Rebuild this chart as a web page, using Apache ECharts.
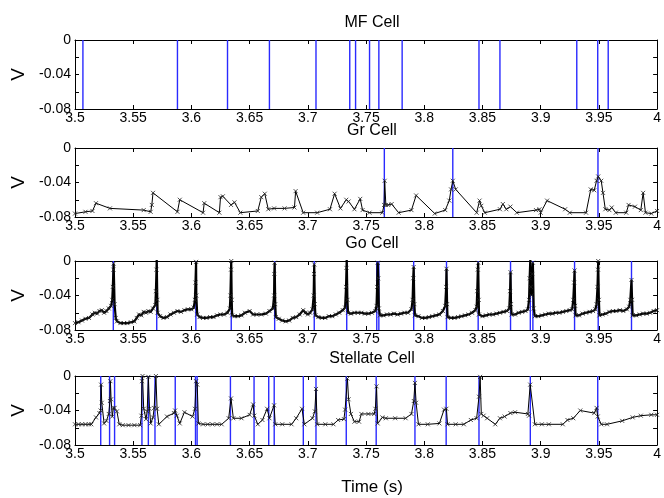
<!DOCTYPE html>
<html><head><meta charset="utf-8">
<script src="https://cdn.jsdelivr.net/npm/echarts@6/dist/echarts.min.js"></script>
<style>html,body{margin:0;padding:0;background:#fff}#c{width:664px;height:498px}</style>
</head><body><div id="c"></div>
<script>
const panelTitles = ['MF Cell', 'Gr Cell', 'Go Cell', 'Stellate Cell'];
const xMin = 3.5, xMax = 4, xStep = 0.05;
const yMin = -0.08, yMax = 0, yStep = 0.02;
const yLabels = [0, -0.04, -0.08];
const xTitle = 'Time (s)';
const yTitle = 'V';

const mfSpikes = [3.5068, 3.588, 3.631, 3.667, 3.707, 3.736, 3.741, 3.753, 3.761, 3.781, 3.847, 3.865, 3.931, 3.949, 3.958];

const grSpikes = [3.7657, 3.8245, 3.9492];
const grT = [3.500, 3.509, 3.515, 3.518, 3.530, 3.559, 3.565, 3.566, 3.567, 3.588, 3.590, 3.610, 3.611, 3.624, 3.625, 3.627, 3.634, 3.637, 3.642, 3.657, 3.660, 3.663, 3.666, 3.671, 3.680, 3.6885, 3.6895, 3.696, 3.708, 3.719, 3.723, 3.728, 3.733, 3.735, 3.740, 3.745, 3.747, 3.753, 3.764, 3.7655, 3.766, 3.767, 3.769, 3.772, 3.778, 3.789, 3.793, 3.809, 3.818, 3.8215, 3.823, 3.8245, 3.827, 3.845, 3.8475, 3.849, 3.852, 3.865, 3.8675, 3.8705, 3.874, 3.8795, 3.896, 3.899, 3.900, 3.9055, 3.921, 3.925, 3.939, 3.943, 3.946, 3.948, 3.9494, 3.952, 3.9535, 3.9555, 3.959, 3.961, 3.9645, 3.9735, 3.9755, 3.981, 3.986, 3.988, 3.990, 3.995, 4.000];
const grV = [-0.076, -0.074, -0.073, -0.064, -0.070, -0.072, -0.074, -0.066, -0.052, -0.074, -0.060, -0.075, -0.064, -0.075, -0.057, -0.056, -0.066, -0.063, -0.075, -0.073, -0.057, -0.053, -0.071, -0.070, -0.070, -0.069, -0.050, -0.075, -0.075, -0.071, -0.053, -0.070, -0.060, -0.062, -0.071, -0.059, -0.072, -0.075, -0.075, -0.066, -0.038, -0.066, -0.066, -0.065, -0.075, -0.072, -0.055, -0.076, -0.072, -0.061, -0.048, -0.038, -0.048, -0.075, -0.061, -0.067, -0.075, -0.071, -0.065, -0.071, -0.068, -0.075, -0.072, -0.071, -0.075, -0.061, -0.071, -0.075, -0.075, -0.048, -0.049, -0.038, -0.033, -0.038, -0.052, -0.071, -0.072, -0.069, -0.075, -0.075, -0.066, -0.068, -0.072, -0.052, -0.075, -0.076, -0.073];

const goSpikes = [3.5329, 3.5702, 3.6038, 3.6342, 3.6715, 3.7055, 3.7334, 3.7592, 3.7610, 3.7909, 3.8191, 3.8463, 3.8741, 3.8911, 3.8933, 3.9291, 3.9494, 3.9780];
const goT = [3.500,3.503,3.506,3.509,3.512,3.515,3.517,3.519,3.521,3.523,3.525,3.527,3.529,3.531,3.532,3.5325,3.533,3.5332,3.534,3.535,
 3.536,3.539,3.542,3.545,3.548,3.551,3.553,3.555,3.557,3.559,3.561,3.563,3.565,3.567,3.569,3.5695,3.570,3.5702,3.5707,3.571,
 3.573,3.576,3.579,3.582,3.585,3.588,3.591,3.594,3.597,3.600,3.602,3.603,3.6035,3.604,3.6042,3.605,
 3.607,3.610,3.613,3.616,3.619,3.622,3.625,3.628,3.631,3.633,3.6335,3.634,3.6342,3.6346,3.635,
 3.637,3.640,3.643,3.646,3.650,3.653,3.656,3.660,3.664,3.667,3.670,3.671,3.6712,3.6715,3.672,3.6725,
 3.675,3.678,3.681,3.684,3.687,3.690,3.693,3.696,3.698,3.700,3.702,3.704,3.705,3.7053,3.7055,3.706,3.7065,
 3.709,3.712,3.715,3.718,3.721,3.724,3.727,3.730,3.732,3.7328,3.7332,3.7334,3.734,3.7345,
 3.737,3.740,3.743,3.746,3.749,3.752,3.755,3.758,3.759,3.7595,3.760,3.7605,3.761,3.762,
 3.765,3.768,3.771,3.774,3.777,3.780,3.783,3.786,3.789,3.790,3.7905,3.7909,3.7915,3.792,
 3.795,3.798,3.801,3.804,3.807,3.810,3.813,3.816,3.818,3.8188,3.8191,3.8196,3.820,
 3.823,3.826,3.829,3.832,3.835,3.838,3.841,3.844,3.845,3.8455,3.846,3.8463,3.8468,3.847,
 3.850,3.853,3.856,3.859,3.862,3.865,3.868,3.871,3.873,3.8737,3.8741,3.8745,3.875,
 3.878,3.881,3.884,3.887,3.889,3.890,3.8905,3.8911,3.8915,3.892,3.8928,3.8933,3.894,3.895,
 3.898,3.901,3.904,3.907,3.910,3.913,3.916,3.919,3.922,3.925,3.927,3.928,3.9287,3.9291,3.9296,3.930,
 3.933,3.936,3.939,3.942,3.945,3.947,3.948,3.9488,3.9492,3.9494,3.950,3.9505,
 3.953,3.956,3.959,3.962,3.965,3.968,3.971,3.974,3.976,3.977,3.978,3.9785,3.979,
 3.982,3.985,3.988,3.991,3.994,3.997,4.000];
const goV = [-0.072,-0.071,-0.069,-0.067,-0.066,-0.062,-0.060,-0.061,-0.058,-0.057,-0.060,-0.058,-0.055,-0.052,-0.045,-0.030,-0.010,-0.003,-0.050,-0.066,
 -0.070,-0.072,-0.072,-0.072,-0.071,-0.070,-0.066,-0.062,-0.063,-0.059,-0.060,-0.058,-0.059,-0.055,-0.051,-0.035,-0.010,0.002,-0.045,-0.060,
 -0.064,-0.066,-0.065,-0.062,-0.060,-0.058,-0.059,-0.057,-0.056,-0.056,-0.054,-0.045,-0.025,-0.001,-0.040,-0.062,
 -0.065,-0.066,-0.066,-0.065,-0.065,-0.063,-0.062,-0.062,-0.060,-0.055,-0.040,-0.010,0,-0.045,-0.063,
 -0.064,-0.064,-0.063,-0.060,-0.058,-0.062,-0.062,-0.062,-0.061,-0.058,-0.055,-0.040,-0.015,-0.002,-0.050,-0.065,
 -0.067,-0.069,-0.070,-0.069,-0.066,-0.065,-0.062,-0.057,-0.060,-0.062,-0.060,-0.056,-0.040,-0.015,-0.004,-0.050,-0.063,
 -0.065,-0.066,-0.066,-0.064,-0.064,-0.062,-0.060,-0.057,-0.054,-0.030,-0.008,0.002,-0.045,-0.060,
 -0.061,-0.060,-0.060,-0.060,-0.061,-0.061,-0.060,-0.058,-0.052,-0.030,-0.002,-0.020,-0.055,-0.063,
 -0.063,-0.062,-0.062,-0.061,-0.062,-0.061,-0.060,-0.060,-0.056,-0.045,-0.020,-0.007,-0.050,-0.063,
 -0.064,-0.066,-0.066,-0.065,-0.064,-0.063,-0.062,-0.058,-0.052,-0.030,-0.009,-0.050,-0.065,
 -0.066,-0.066,-0.065,-0.064,-0.063,-0.062,-0.060,-0.057,-0.053,-0.035,-0.010,-0.002,-0.045,-0.062,
 -0.064,-0.063,-0.062,-0.062,-0.061,-0.060,-0.059,-0.058,-0.055,-0.035,-0.013,-0.050,-0.062,
 -0.062,-0.060,-0.059,-0.058,-0.056,-0.045,-0.020,0.002,-0.030,-0.040,-0.015,-0.002,-0.055,-0.064,
 -0.064,-0.063,-0.062,-0.061,-0.061,-0.060,-0.060,-0.059,-0.058,-0.057,-0.056,-0.045,-0.025,-0.011,-0.052,-0.063,
 -0.063,-0.061,-0.060,-0.059,-0.058,-0.056,-0.050,-0.030,-0.010,0,-0.045,-0.063,
 -0.062,-0.061,-0.059,-0.058,-0.058,-0.057,-0.058,-0.056,-0.053,-0.045,-0.022,-0.045,-0.063,
 -0.063,-0.062,-0.061,-0.061,-0.060,-0.058,-0.057];

const stSpikes = [3.5221, 3.5297, 3.5340, 3.5575, 3.5630, 3.5687, 3.5861, 3.6035, 3.6049, 3.6335, 3.6538, 3.6664, 3.6711, 3.6961, 3.7070, 3.7330, 3.7587, 3.7920, 3.8188, 3.8470, 3.8911, 3.9490];
const stT = [3.500,3.503,3.506,3.509,3.512,3.514,3.518,3.521,3.522,3.5224,3.523,3.525,3.527,3.529,3.530,3.5304,3.531,3.532,3.533,3.534,3.536,3.538,3.541,3.546,3.551,3.556,3.557,3.5575,3.558,3.559,3.561,3.562,3.563,3.564,3.565,3.567,3.568,3.5695,3.5705,3.572,3.579,3.585,3.586,3.5875,3.590,3.594,3.601,3.603,3.604,3.605,3.606,3.610,3.614,3.618,3.622,3.626,3.632,3.634,3.636,3.643,3.650,3.653,3.654,3.657,3.661,3.665,3.667,3.671,3.672,3.678,3.686,3.690,3.695,3.697,3.704,3.706,3.707,3.708,3.715,3.722,3.726,3.731,3.732,3.734,3.735,3.737,3.740,3.744,3.746,3.752,3.757,3.758,3.759,3.760,3.764,3.767,3.775,3.784,3.789,3.791,3.792,3.793,3.795,3.803,3.813,3.817,3.819,3.820,3.827,3.834,3.840,3.845,3.847,3.848,3.849,3.851,3.854,3.861,3.865,3.869,3.874,3.878,3.889,3.890,3.891,3.895,3.901,3.907,3.919,3.923,3.928,3.934,3.946,3.948,3.949,3.952,3.957,3.970,3.979,3.986,3.995,4.000];
const stV = [-0.056,-0.056,-0.056,-0.056,-0.056,-0.056,-0.048,-0.043,-0.040,-0.010,-0.031,-0.055,-0.052,-0.044,-0.029,-0.006,-0.027,-0.047,-0.037,-0.037,-0.041,-0.056,-0.057,-0.057,-0.057,-0.057,-0.046,-0.006,0,-0.038,-0.050,-0.041,-0.001,-0.038,-0.055,-0.048,-0.037,0,-0.038,-0.056,-0.047,-0.043,-0.040,-0.046,-0.055,-0.042,-0.047,-0.038,-0.006,-0.010,-0.055,-0.056,-0.056,-0.056,-0.056,-0.056,-0.049,-0.026,-0.049,-0.049,-0.045,-0.033,-0.046,-0.056,-0.051,-0.038,-0.049,-0.034,-0.056,-0.056,-0.056,-0.049,-0.038,-0.056,-0.049,-0.041,-0.015,-0.056,-0.056,-0.056,-0.051,-0.050,-0.039,-0.003,-0.027,-0.044,-0.053,-0.053,-0.044,-0.044,-0.044,-0.038,-0.012,-0.055,-0.048,-0.049,-0.049,-0.049,-0.044,-0.029,-0.008,-0.031,-0.056,-0.056,-0.055,-0.039,-0.038,-0.056,-0.056,-0.056,-0.051,-0.049,-0.024,-0.001,-0.044,-0.046,-0.049,-0.056,-0.049,-0.047,-0.043,-0.042,-0.044,-0.046,-0.010,-0.056,-0.056,-0.056,-0.056,-0.051,-0.049,-0.040,-0.043,-0.037,-0.047,-0.056,-0.056,-0.052,-0.048,-0.046,-0.045,-0.045];

const panels = [
  {spikes: mfSpikes, t: [], v: []},
  {spikes: grSpikes, t: grT, v: grV},
  {spikes: goSpikes, t: goT, v: goV},
  {spikes: stSpikes, t: stT, v: stV}
];

const FONT = 'Liberation Sans, Arial, Helvetica, sans-serif';
const tops = [40, 148, 261, 376];
const plotH = 69;
const xSym = 'path://M0,0L10,10M10,0L0,10';

const grid = [], xAxis = [], yAxis = [], series = [], title = [];
const axLine = {show: true, onZero: false, lineStyle: {color: '#000', width: 1}};
const axTick = {show: true, inside: true, length: 4, lineStyle: {color: '#000', width: 1}};
const fmtX = v => String(+v.toFixed(2));
const fmtY = v => { const r = +v.toFixed(2); return yLabels.includes(r) ? String(r === 0 ? 0 : r) : ''; };

const spikeRender = (params, api) => {
  const t = api.value(0);
  const p1 = api.coord([t, yMax]);
  const p2 = api.coord([t, yMin]);
  return {type: 'line', shape: {x1: p1[0], y1: p1[1], x2: p2[0], y2: p2[1]},
    style: {stroke: '#2a2aff', lineWidth: 1.4}};
};

panels.forEach((p, i) => {
  grid.push({left: 75, width: 585, top: tops[i], height: plotH});
  title.push({text: panelTitles[i], left: 367, top: tops[i] - 30, textAlign: 'center',
    textStyle: {fontFamily: FONT, fontSize: 16, fontWeight: 'normal', color: '#000'}});
  xAxis.push({type: 'value', gridIndex: i, min: xMin, max: xMax, interval: xStep, position: 'bottom',
    axisLine: axLine, axisTick: axTick, splitLine: {show: false},
    axisLabel: {fontFamily: FONT, fontSize: 14, color: '#000', margin: 2, formatter: fmtX}});
  xAxis.push({type: 'value', gridIndex: i, min: xMin, max: xMax, interval: xStep, position: 'top',
    axisLine: axLine, axisTick: axTick, splitLine: {show: false}, axisLabel: {show: false}});
  yAxis.push({type: 'value', gridIndex: i, min: yMin, max: yMax, interval: yStep, position: 'left',
    name: yTitle, nameLocation: 'middle', nameGap: 37, nameRotate: 90,
    nameTextStyle: {fontFamily: FONT, fontSize: 19, color: '#000'},
    axisLine: axLine, axisTick: axTick, splitLine: {show: false},
    axisLabel: {fontFamily: FONT, fontSize: 14, color: '#000', margin: 4, formatter: fmtY}});
  yAxis.push({type: 'value', gridIndex: i, min: yMin, max: yMax, interval: yStep, position: 'right',
    axisLine: axLine, axisTick: axTick, splitLine: {show: false}, axisLabel: {show: false}});
  series.push({type: 'custom', xAxisIndex: 2 * i, yAxisIndex: 2 * i, silent: true, z: 1,
    clip: true, data: p.spikes.map(s => [s]), encode: {x: 0}, renderItem: spikeRender});
  if (p.t.length) {
    series.push({type: 'line', xAxisIndex: 2 * i, yAxisIndex: 2 * i, z: 3, silent: true,
      data: p.t.map((t, k) => [t, p.v[k]]),
      symbol: xSym, symbolSize: 4, showSymbol: true, showAllSymbol: true,
      lineStyle: {color: '#000', width: i === 2 ? 2.2 : 1},
      itemStyle: {color: '#000', borderColor: '#222', borderWidth: 0.8},
      emphasis: {disabled: true}, clip: true});
  }
});
title.push({text: xTitle, left: 367, top: 474, textAlign: 'center',
  textStyle: {fontFamily: FONT, fontSize: 17, fontWeight: 'normal', color: '#000'}});

const chart = echarts.init(document.getElementById('c'));
chart.setOption({animation: false, backgroundColor: '#fff', title, grid, xAxis, yAxis, series});
</script></body></html>
